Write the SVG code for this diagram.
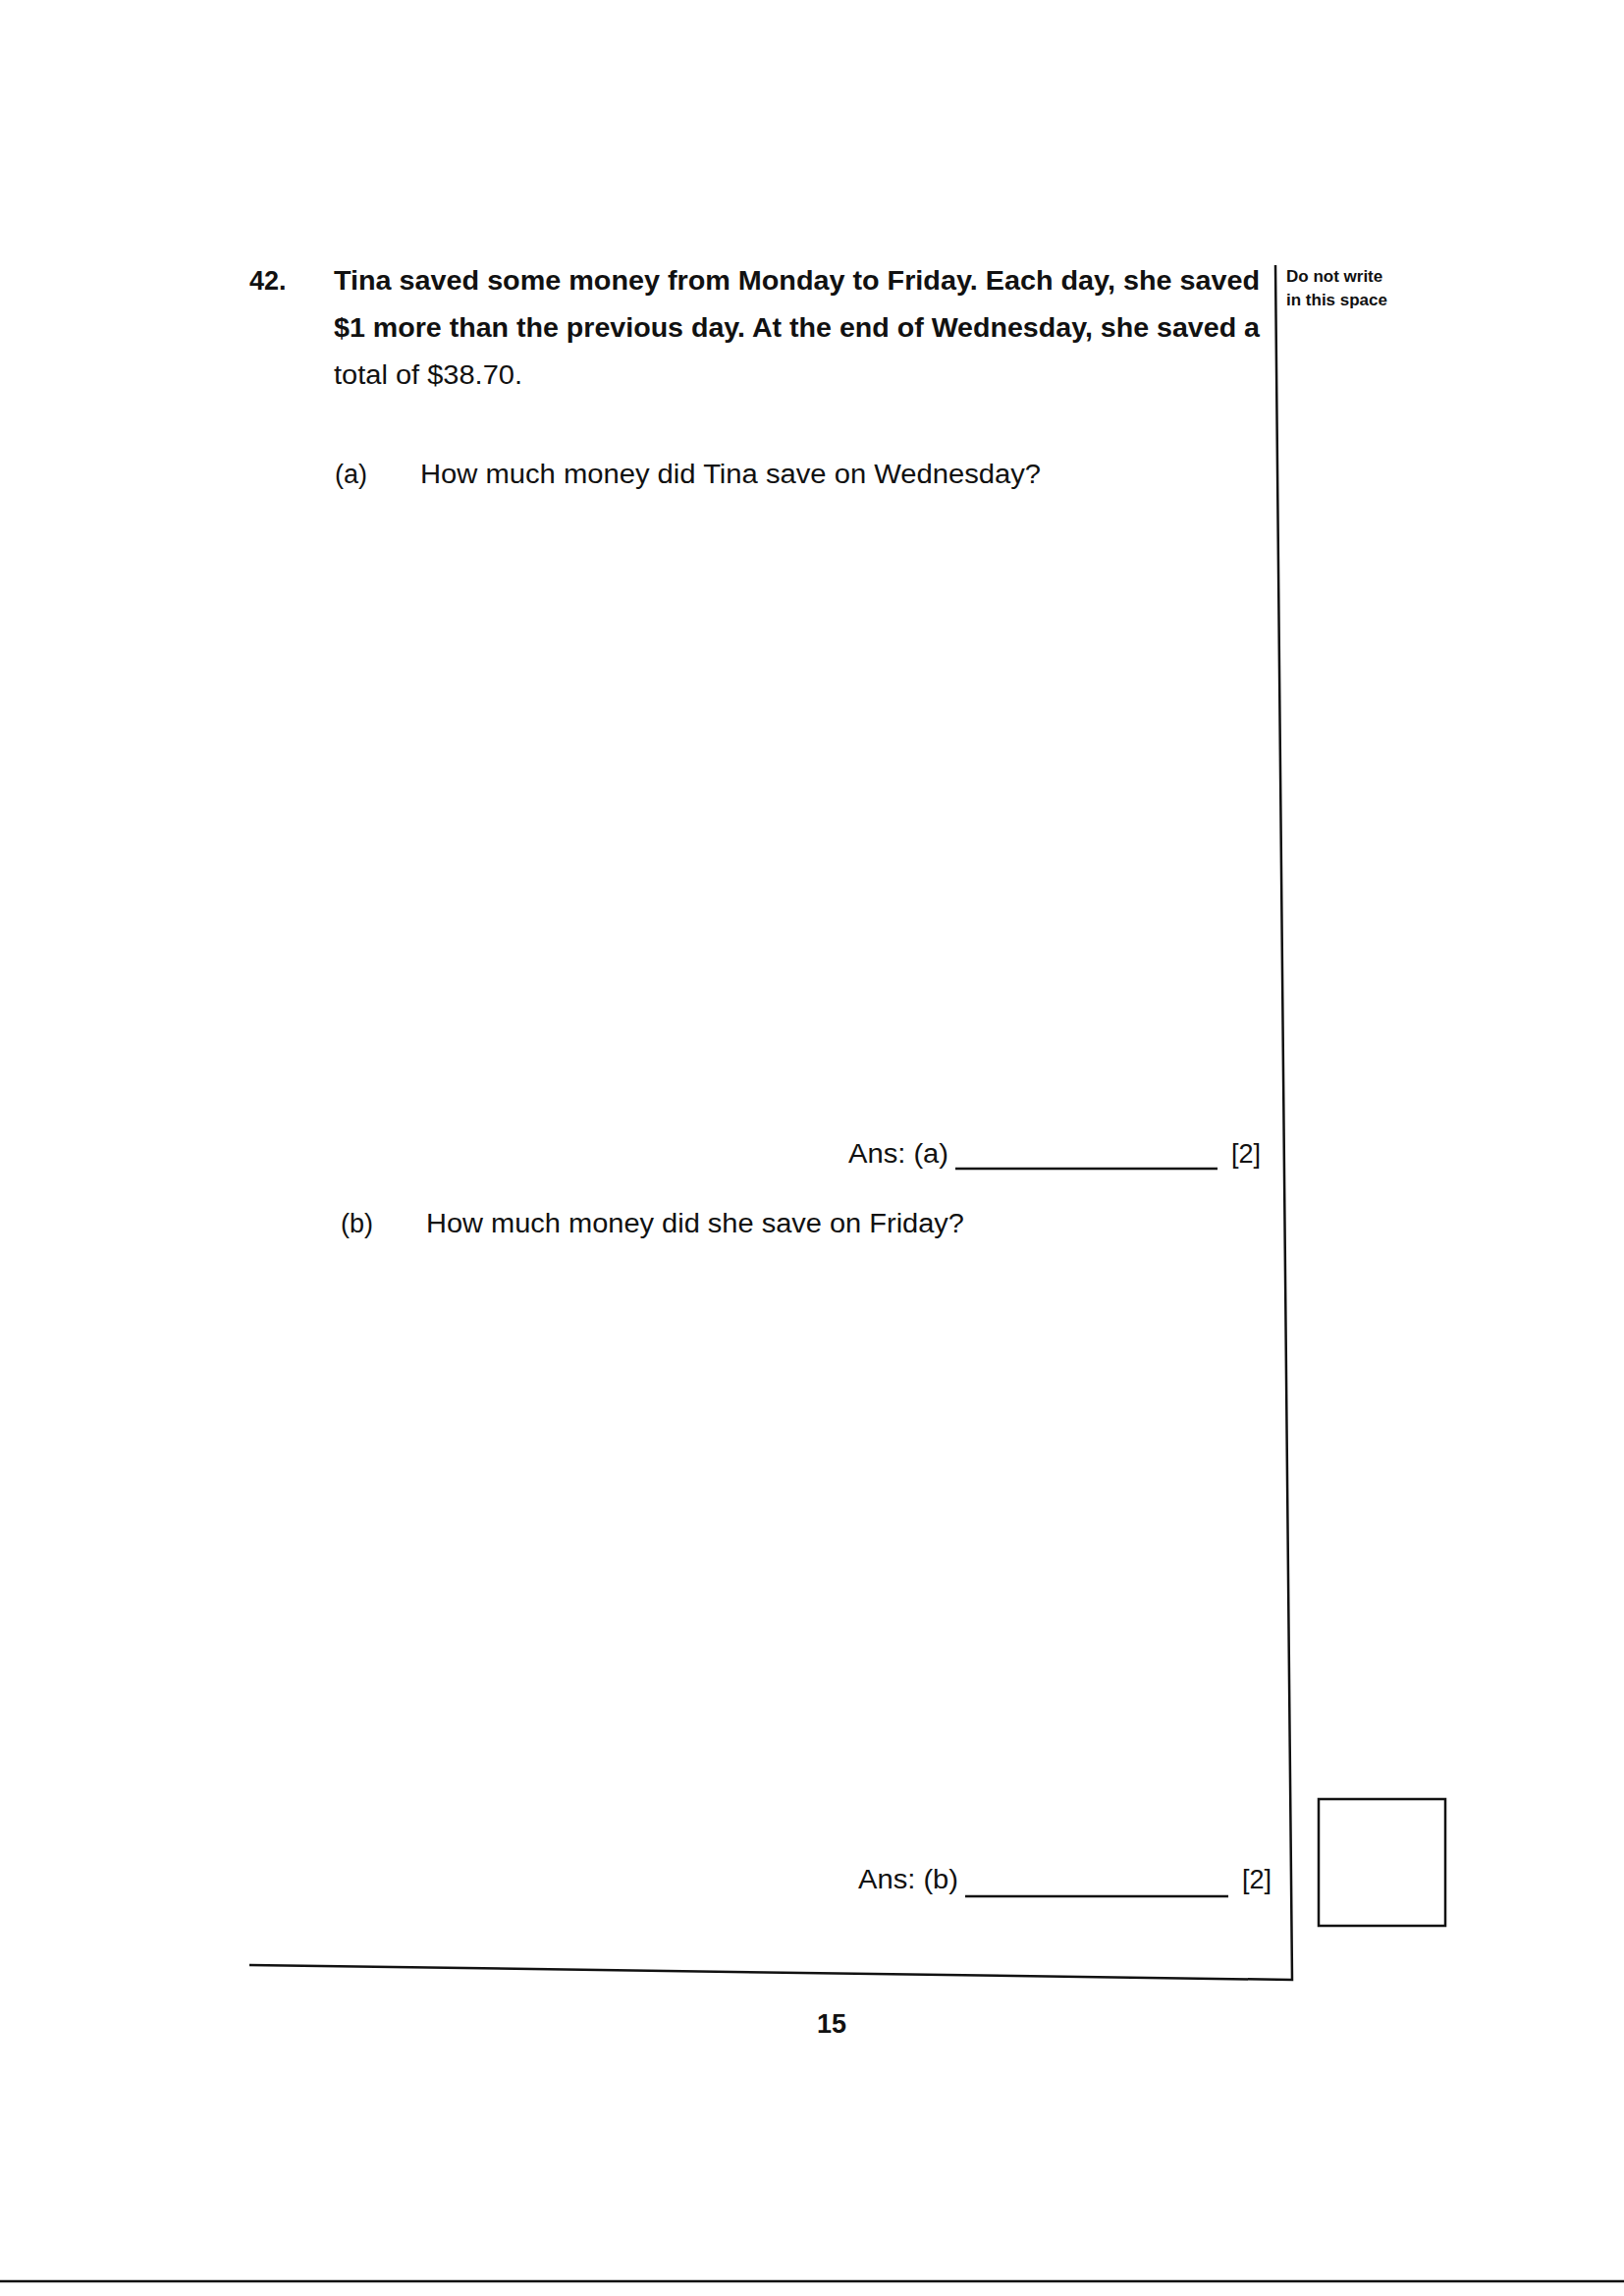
<svg xmlns="http://www.w3.org/2000/svg" width="1654" height="2338" viewBox="0 0 1654 2338">
<style>
.t{font-family:"Liberation Sans",Arial,sans-serif;font-size:27px;fill:#111}
.b{font-weight:bold}
.s{font-family:"Liberation Sans",Arial,sans-serif;font-size:17px;font-weight:bold;fill:#111}
.ln{stroke:#111;stroke-width:2.5;fill:none}
</style>
<rect width="1654" height="2338" fill="#fff"/>
<g id="question">
<text class="t b" x="254" y="295">42.</text>
<text class="t b" x="340" y="295" textLength="943" lengthAdjust="spacingAndGlyphs">Tina saved some money from Monday to Friday.  Each day, she saved</text>
<text class="t b" x="340" y="343" textLength="943" lengthAdjust="spacingAndGlyphs">$1 more than the previous day.  At the end of Wednesday, she saved a</text>
<text class="t" x="340" y="391" textLength="192" lengthAdjust="spacingAndGlyphs">total of $38.70.</text>
</g>
<g id="part-a">
<text class="t" x="341" y="492">(a)</text>
<text class="t" x="428" y="492" textLength="632" lengthAdjust="spacingAndGlyphs">How much money did Tina save on Wednesday?</text>
<text class="t" x="864" y="1184" textLength="102" lengthAdjust="spacingAndGlyphs">Ans: (a)</text>
<line class="ln" x1="973" y1="1190" x2="1240" y2="1190"/>
<text class="t" x="1254" y="1184">[2]</text>
</g>
<g id="part-b">
<text class="t" x="347" y="1255">(b)</text>
<text class="t" x="434" y="1255" textLength="548" lengthAdjust="spacingAndGlyphs">How much money did she save on Friday?</text>
<text class="t" x="874" y="1923" textLength="102" lengthAdjust="spacingAndGlyphs">Ans: (b)</text>
<line class="ln" x1="983" y1="1931" x2="1251" y2="1931"/>
<text class="t" x="1265" y="1923">[2]</text>
</g>
<g id="margin">
<text class="s" x="1310" y="287">Do not write</text>
<text class="s" x="1310" y="311">in this space</text>
<rect class="ln" x="1343" y="1832" width="129" height="129"/>
</g>
<g id="connectors">
<path class="ln" d="M1299 270 L1316 2016 L254 2001"/>
<line class="ln" x1="0" y1="2323" x2="1654" y2="2323" stroke-width="1.5"/>
</g>
<text class="t b" x="832" y="2070">15</text>
</svg>
